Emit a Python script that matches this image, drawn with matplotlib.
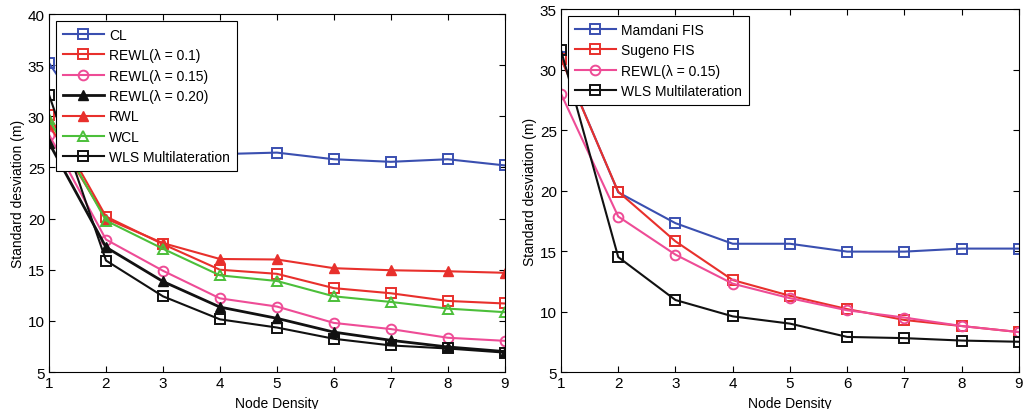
import matplotlib
matplotlib.use("Agg")
import matplotlib.pyplot as plt

# node density (x axis) shared by both panels
density = [1, 2, 3, 4, 5, 6, 7, 8, 9]

# left panel series
cl = [35.2, 27.0, 26.5, 26.3, 26.45, 25.8, 25.55, 25.8, 25.2]
rewl_01 = [30.1, 20.2, 17.5, 15.0, 14.6, 13.2, 12.7, 11.95, 11.7]
rewl_015 = [28.2, 17.95, 14.9, 12.2, 11.4, 9.8, 9.2, 8.35, 8.05]
rewl_020 = [27.4, 17.2, 13.85, 11.35, 10.25, 8.9, 8.1, 7.45, 7.0]
rwl = [29.2, 20.0, 17.6, 16.05, 16.0, 15.15, 14.95, 14.85, 14.7]
wcl = [29.7, 19.8, 17.05, 14.45, 13.9, 12.4, 11.85, 11.2, 10.85]
wls_left = [32.1, 15.9, 12.4, 10.15, 9.35, 8.25, 7.6, 7.3, 6.9]

# right panel series
mamdani = [31.0, 19.85, 17.3, 15.6, 15.6, 14.95, 14.95, 15.2, 15.2]
sugeno = [30.9, 19.9, 15.8, 12.6, 11.3, 10.2, 9.3, 8.8, 8.3]
rewl_right = [28.0, 17.85, 14.7, 12.3, 11.1, 10.1, 9.5, 8.8, 8.3]
wls_right = [31.6, 14.5, 10.95, 9.6, 9.0, 7.9, 7.8, 7.6, 7.5]

BLUE = "#3a4fb0"
RED = "#e8302c"
MAGENTA = "#ee4c96"
GREEN = "#4cbf3a"
BLACK = "#111111"

plt.rcParams['font.family'] = ['Liberation Sans', 'DejaVu Sans']

fig = plt.figure(figsize=(10.28, 4.1), dpi=100)
ax1 = fig.add_axes([0.0477, 0.0902, 0.4433, 0.8732])
ax2 = fig.add_axes([0.5457, 0.0902, 0.4455, 0.8854])

def line(ax, y, color, marker, label, lw=1.5):
    ax.plot(density, y, color=color, marker=marker, markersize=7,
            markerfacecolor='none', markeredgewidth=1.4, linewidth=lw, label=label)

# left
line(ax1, cl, BLUE, 's', 'CL')
line(ax1, rewl_01, RED, 's', 'REWL(λ = 0.1)')
line(ax1, rewl_015, MAGENTA, 'o', 'REWL(λ = 0.15)')
ax1.plot(density, rewl_020, color=BLACK, marker='^', markersize=7, linewidth=2,
         label='REWL(λ = 0.20)')
ax1.plot(density, rwl, color=RED, marker='^', markersize=7, linewidth=1.5,
         markerfacecolor=RED, label='RWL')
line(ax1, wcl, GREEN, '^', 'WCL')
line(ax1, wls_left, BLACK, 's', 'WLS Multilateration')
ax1.set_ylim(5, 40)
ax1.set_yticks(range(5, 41, 5))

# right
line(ax2, mamdani, BLUE, 's', 'Mamdani FIS')
line(ax2, sugeno, RED, 's', 'Sugeno FIS')
line(ax2, rewl_right, MAGENTA, 'o', 'REWL(λ = 0.15)')
line(ax2, wls_right, BLACK, 's', 'WLS Multilateration')
ax2.set_ylim(5, 35)
ax2.set_yticks(range(5, 36, 5))

for ax in (ax1, ax2):
    ax.set_xlim(1, 9)
    ax.set_xticks(density)
    ax.tick_params(direction='in', top=True, right=True, labelsize=11, length=4, pad=3)
    ax.set_xlabel('Node Density', fontsize=10, labelpad=4)
    ax.set_ylabel('Standard desviation (m)', fontsize=10, labelpad=2)
    for s in ax.spines.values():
        s.set_linewidth(0.8)
    leg = ax.legend(loc='upper left', fontsize=10, frameon=True, fancybox=False,
                    edgecolor='black', framealpha=1, borderaxespad=0.5,
                    handlelength=2.95, labelspacing=0.46, borderpad=0.5,
                    handletextpad=0.35)
    leg.get_frame().set_linewidth(0.8)

fig.savefig('out.png', dpi=100)
